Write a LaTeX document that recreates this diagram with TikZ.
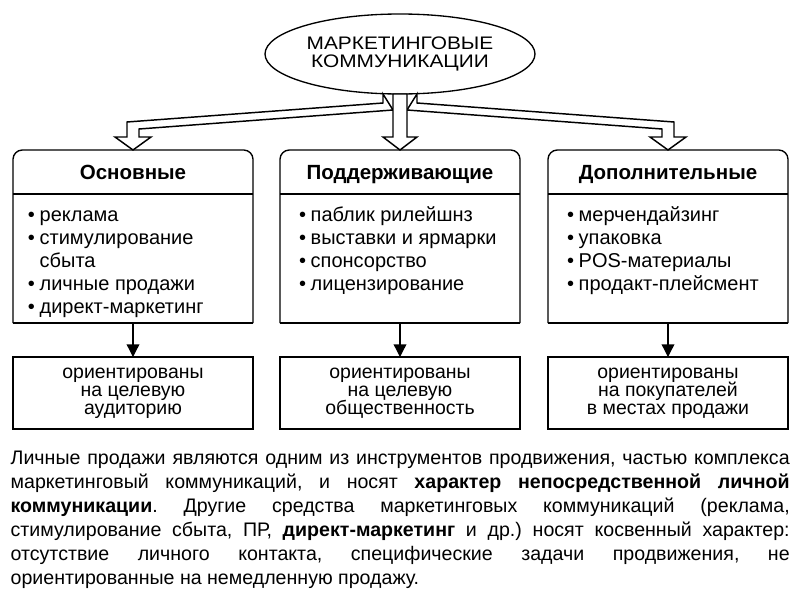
\documentclass[tikz,border=0pt]{standalone}
\usepackage{fontspec}
\setmainfont{Liberation Sans}
\newfontfamily\ellfont[FakeStretch=1.15]{Liberation Sans}
\usetikzlibrary{shapes.geometric,arrows.meta,calc}
\newcommand\bul{\llap{\textbullet\hspace{3.5pt}}}
\newcommand\tightlines{\lineskiplimit=-100pt\lineskip=0pt\relax}
\begin{document}
\begin{tikzpicture}[x=0.75pt,y=-0.75pt,line width=1pt,
  topbox/.style={draw=none,rectangle,minimum width=180pt,minimum height=129.75pt,inner sep=0,outer sep=0},
  botbox/.style={draw,rectangle,minimum width=180pt,minimum height=54pt,inner sep=0,outer sep=0,align=center,
     font=\fontsize{14.6}{13.6}\selectfont\tightlines},
  fat/.style={draw,fill=white,line width=1.1pt,line join=miter},
  head/.style={anchor=base,inner sep=0,font=\fontsize{15.4}{18}\selectfont\bfseries},
  items/.style={anchor=north west,align=left,inner sep=0,font=\fontsize{15}{17.2}\selectfont\tightlines},
  conn/.style={-{Triangle[length=9.5pt,width=9.5pt]}}]
\useasboundingbox (0,0) rectangle (800,600);

% title ellipse
\node[ellipse,draw,minimum width=202.5pt,minimum height=60pt,inner sep=0,outer sep=0,align=center,
      font=\ellfont\fontsize{13.6}{14}\selectfont] (ell) at (400,54) {МАРКЕТИНГОВЫЕ\\КОММУНИКАЦИИ};

% top boxes
\node[topbox] (b1) at (133,236.5) {};
\node[topbox] (b2) at (400,236.5) {};
\node[topbox] (b3) at (668,236.5) {};
\foreach \b in {b1,b2,b3}{
  \draw[rounded corners=7pt] (\b.south west) -- (\b.north west) -- (\b.north east) -- (\b.south east);
  \draw (\b.south west) -- (\b.south east);
  \draw ($(\b.north west)+(0,44)$) -- ($(\b.north east)+(0,44)$);
}

% hollow arrows
\draw[fat] ($(ell.south)+(-17,0)$) -- ($(ell.south)+(-17,9)$) -- ($(b1.north)+(-6,-28)$) -- ($(b1.north)+(-6,-13)$)
  -- ($(b1.north)+(-18,-13)$) -- (b1.north) -- ($(b1.north)+(18,-13)$) -- ($(b1.north)+(6,-13)$)
  -- ($(b1.north)+(6,-21)$) -- ($(ell.south)+(-7,16)$) -- cycle;
\draw[fat] ($(ell.south)+(17,0)$) -- ($(ell.south)+(17,9)$) -- ($(b3.north)+(6,-28)$) -- ($(b3.north)+(6,-13)$)
  -- ($(b3.north)+(18,-13)$) -- (b3.north) -- ($(b3.north)+(-18,-13)$) -- ($(b3.north)+(-6,-13)$)
  -- ($(b3.north)+(-6,-21)$) -- ($(ell.south)+(7,16)$) -- cycle;
\draw[fat] ($(ell.south)+(-7,0)$) -- ($(b2.north)+(-7,-13)$) -- ($(b2.north)+(-17,-13)$) -- (b2.north)
  -- ($(b2.north)+(17,-13)$) -- ($(b2.north)+(7,-13)$) -- ($(ell.south)+(7,0)$) -- cycle;

% headers
\node[head] (h1) at (133,179) {Основные};
\node[head] (h2) at (400,179) {Поддерживающие};
\node[head] (h3) at (668,179) {Дополнительные};

% lists
\node[items] (l1) at (39,205) {\strut\bul реклама\\\bul стимулирование\\сбыта\\\bul личные продажи\\\bul директ-маркетинг};
\node[items] (l2) at (310,205) {\strut\bul паблик рилейшнз\\\bul выставки и ярмарки\\\bul спонсорство\\\bul лицензирование};
\node[items] (l3) at (578,205) {\strut\bul мерчендайзинг\\\bul упаковка\\\bul POS-материалы\\\bul продакт-плейсмент};

% bottom boxes
\node[botbox] (c1) at (133,393) {ориентированы\\на целевую\\аудиторию};
\node[botbox] (c2) at (400,393) {ориентированы\\на целевую\\общественность};
\node[botbox] (c3) at (668,393) {ориентированы\\на покупателей\\в местах продажи};
\draw[conn] (b1.south) -- (c1.north);
\draw[conn] (b2.south) -- (c2.north);
\draw[conn] (b3.south) -- (c3.north);

% paragraph
\node[anchor=north west,text width=584.25pt,align=justify,inner sep=0,
      font=\fontsize{14.7}{18}\selectfont\frenchspacing] (para) at (10,450) {\noindent
Личные продажи являются одним из инструментов продвижения, частью комплекса\linebreak
маркетинговый коммуникаций, и носят \textbf{характер непосредственной личной}\linebreak
\textbf{коммуникации}. Другие средства маркетинговых коммуникаций (реклама,\linebreak
стимулирование сбыта, ПР, \textbf{директ-маркетинг} и др.) носят косвенный характер:\linebreak
отсутствие личного контакта, специфические задачи продвижения, не\linebreak
ориентированные на немедленную продажу.};
\end{tikzpicture}
\end{document}
